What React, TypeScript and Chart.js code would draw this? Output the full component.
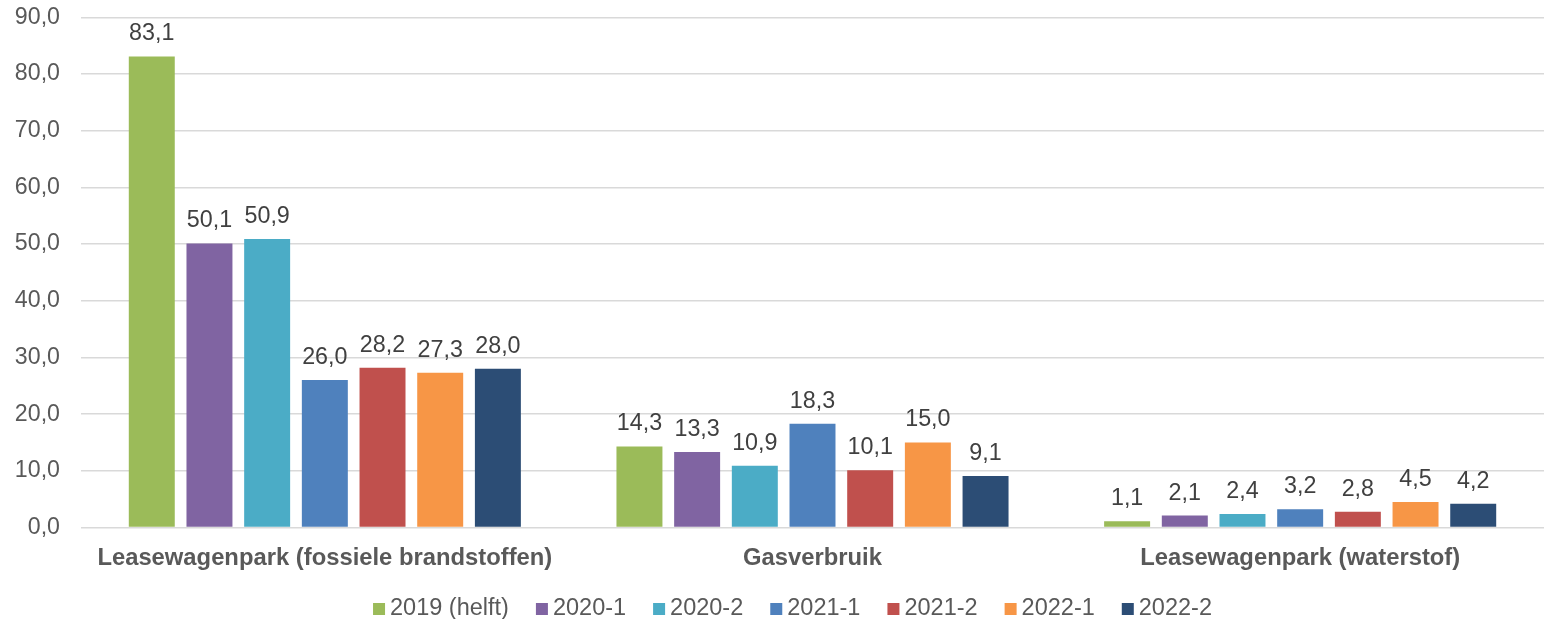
import React, { useEffect, useRef } from "react";
import { Chart, registerables } from "chart.js";

Chart.register(...registerables);

const categories = [
  "Leasewagenpark (fossiele brandstoffen)",
  "Gasverbruik",
  "Leasewagenpark (waterstof)",
];
const seriesLabels = ["2019 (helft)", "2020-1", "2020-2", "2021-1", "2021-2", "2022-1", "2022-2"];
const s2019 = [83.1, 14.3, 1.1];
const s2020a = [50.1, 13.3, 2.1];
const s2020b = [50.9, 10.9, 2.4];
const s2021a = [26.0, 18.3, 3.2];
const s2021b = [28.2, 10.1, 2.8];
const s2022a = [27.3, 15.0, 4.5];
const s2022b = [28.0, 9.1, 4.2];
const seriesValues = [s2019, s2020a, s2020b, s2021a, s2021b, s2022a, s2022b];
const seriesColors = ["#9BBB59", "#8064A2", "#4BACC6", "#4F81BD", "#C0504D", "#F79646", "#2C4D75"];
const yMin = 0;
const yMax = 90;
const yStep = 10;

const FONT = "'Liberation Sans', Arial, sans-serif";
const fmt = (v: number) => v.toFixed(1).replace(".", ",");

const valueLabels = {
  id: "valueLabels",
  afterDatasetsDraw(chart: any) {
    const ctx = chart.ctx;
    ctx.save();
    ctx.font = `23.3px ${FONT}`;
    ctx.fillStyle = "#404040";
    ctx.textAlign = "center";
    ctx.textBaseline = "alphabetic";
    chart.data.datasets.forEach((ds: any, i: number) => {
      const meta = chart.getDatasetMeta(i);
      meta.data.forEach((el: any, j: number) => {
        ctx.fillText(fmt(ds.data[j]), el.x, el.y - 16);
      });
    });
    ctx.restore();
  },
};

const bottomLegend = {
  id: "bottomLegend",
  afterDraw(chart: any) {
    const ctx = chart.ctx;
    ctx.save();
    ctx.font = `23.5px ${FONT}`;
    const box = 12;
    const gap = 5;
    const spacing = 27;
    const items = chart.data.datasets.map((ds: any) => ({
      label: ds.label,
      color: ds.backgroundColor,
      w: ctx.measureText(ds.label).width,
    }));
    const total = items.reduce((a: number, it: any) => a + box + gap + it.w, 0) + spacing * (items.length - 1);
    const center = (chart.chartArea.left + chart.chartArea.right) / 2 - 20;
    let x = center - total / 2;
    const baseline = 615;
    items.forEach((it: any) => {
      ctx.fillStyle = it.color;
      ctx.fillRect(x, baseline - 12, box, box);
      ctx.fillStyle = "#595959";
      ctx.textAlign = "left";
      ctx.textBaseline = "alphabetic";
      ctx.fillText(it.label, x + box + gap, baseline);
      x += box + gap + it.w + spacing;
    });
    ctx.restore();
  },
};

export default function App() {
  const ref = useRef<HTMLCanvasElement | null>(null);
  useEffect(() => {
    if (!ref.current) return;
    const chart = new Chart(ref.current, {
      type: "bar",
      data: {
        labels: categories,
        datasets: seriesLabels.map((label, i) => ({
          label,
          data: seriesValues[i],
          backgroundColor: seriesColors[i],
          categoryPercentage: 0.828,
          barPercentage: 0.797,
        })),
      },
      options: {
        animation: false,
        responsive: false,
        maintainAspectRatio: false,
        layout: { padding: { top: 17.3, left: 0, right: 0, bottom: 0 } },
        plugins: {
          legend: { display: false },
          title: { display: false },
          tooltip: { enabled: false },
        },
        scales: {
          x: {
            grid: { display: false, drawTicks: false },
            border: { display: false },
            ticks: {
              color: "#595959",
              font: { family: FONT, size: 23.8, weight: "bold" },
              padding: 17,
              maxRotation: 0,
              autoSkip: false,
            },
            afterFit: (s: any) => {
              s.height = 91.5;
              s.paddingLeft = 0;
              s.paddingRight = 0;
              s.paddingTop = 0;
              s.paddingBottom = 0;
            },
          },
          y: {
            min: yMin,
            max: yMax,
            grid: { color: "#D9D9D9", lineWidth: 1.5, drawTicks: false },
            border: { display: false },
            ticks: {
              stepSize: yStep,
              color: "#595959",
              font: { family: FONT, size: 23.2 },
              padding: 21,
              callback: (v: any) => fmt(Number(v)),
            },
            afterFit: (s: any) => {
              s.width = 81;
              s.paddingTop = 0;
              s.paddingBottom = 0;
            },
          },
        },
      },
      plugins: [valueLabels, bottomLegend],
    } as any);
    return () => chart.destroy();
  }, []);
  return (
    <div style={{ position: "fixed", left: 0, top: 0, width: 1544, height: 619, background: "#fff" }}>
      <canvas ref={ref} width={1544} height={619} style={{ width: 1544, height: 619 }} />
    </div>
  );
}
